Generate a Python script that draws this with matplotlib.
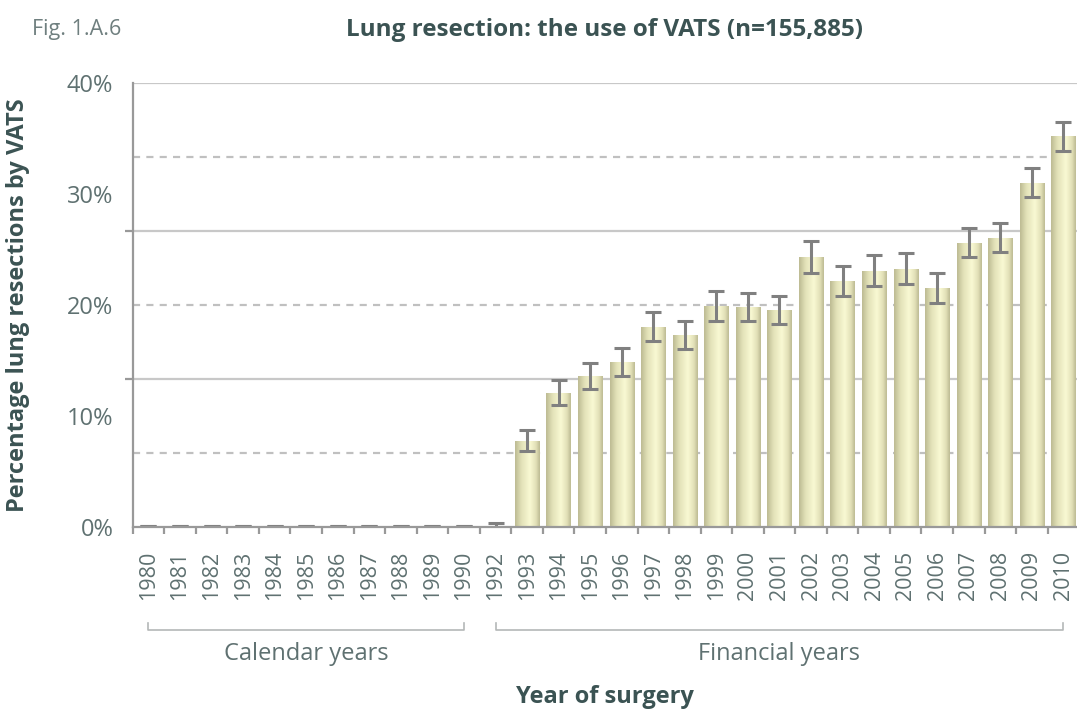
import matplotlib.pyplot as plt
import numpy as np
from matplotlib.colors import LinearSegmentedColormap

plt.rcParams['font.family'] = ['Open Sans', 'DejaVu Sans']

# Year of surgery (1991 is missing in the source)
years = ["1980", "1981", "1982", "1983", "1984", "1985", "1986", "1987", "1988", "1989", "1990",
         "1992", "1993", "1994", "1995", "1996", "1997", "1998", "1999", "2000", "2001",
         "2002", "2003", "2004", "2005", "2006", "2007", "2008", "2009", "2010"]

# Percentage of lung resections by VATS
vats_pct = [0.1, 0.1, 0.1, 0.1, 0.1, 0.1, 0.1, 0.1, 0.1, 0.1, 0.1,
            0.1, 7.75, 12.05, 13.6, 14.9, 18.0, 17.3, 19.9, 19.8, 19.55,
            24.3, 22.2, 23.1, 23.2, 21.5, 25.6, 26.0, 31.0, 35.2]

# 95% confidence limits
ci_upper = [0.1, 0.1, 0.1, 0.1, 0.1, 0.1, 0.1, 0.1, 0.1, 0.1, 0.1,
            0.4, 8.7, 13.2, 14.75, 16.15, 19.35, 18.6, 21.25, 21.1, 20.8,
            25.8, 23.5, 24.5, 24.7, 22.9, 26.9, 27.4, 32.3, 36.5]
ci_lower = [0.1, 0.1, 0.1, 0.1, 0.1, 0.1, 0.1, 0.1, 0.1, 0.1, 0.1,
            0.0, 6.85, 11.0, 12.45, 13.6, 16.75, 16.05, 18.6, 18.55, 18.3,
            22.9, 20.8, 21.7, 21.9, 20.2, 24.3, 24.8, 29.7, 33.9]

y_labels = ["0%", "10%", "20%", "30%", "40%"]

text_col = "#5f7171"
title_col = "#3b5353"
axis_col = "#999999"

fig = plt.figure(figsize=(10.77, 7.11), dpi=100)
ax = fig.add_axes([132.7 / 1077, 184 / 711, 946.5 / 1077, 444 / 711])

x = np.arange(len(years)) + 0.5
vals = np.array(vats_pct)
bars = ax.bar(x, vals, width=0.77, color="none", edgecolor="none", zorder=3)

# horizontal shading inside each bar
cmap = LinearSegmentedColormap.from_list(
    "bar", [(0, "#bdbb93"), (0.25, "#e2e1b8"), (0.6, "#f9f9d3"), (0.85, "#e2e0b7"), (1, "#bdbb93")])
grad = np.linspace(0, 1, 64).reshape(1, -1)
for b in bars:
    x0, w, h = b.get_x(), b.get_width(), b.get_height()
    im = ax.imshow(grad, cmap=cmap, extent=(x0, x0 + w, 0, h), aspect="auto", zorder=3,
                   interpolation="bicubic")
    im.set_clip_path(b)

yerr = [vals - np.array(ci_lower), np.array(ci_upper) - vals]
ax.errorbar(x, vals, yerr=yerr, fmt="none", ecolor="#808080", elinewidth=2.2,
            capsize=5.5, capthick=2.2, zorder=4)

ax.set_xlim(0, len(years))
ax.set_ylim(0, 40)

# gridlines: solid at thirds, dashed in between
for g in [40 / 3, 80 / 3, 40]:
    ax.axhline(g, color="#c8c8c8", lw=1.6, zorder=1)
for g in [20 / 3, 20, 100 / 3]:
    ax.axhline(g, color="#c0c0c0", lw=1.6, ls=(0, (3.2, 2.8)), zorder=1)

for s in ["top", "right"]:
    ax.spines[s].set_visible(False)
for s in ["left", "bottom"]:
    ax.spines[s].set_color(axis_col)
    ax.spines[s].set_linewidth(1.6)
    ax.spines[s].set_zorder(5)

ax.set_yticks([0, 10, 20, 30, 40])
ax.set_yticklabels(y_labels, fontsize=17, color=text_col)
ax.set_yticks([0, 40 / 3, 80 / 3, 40], minor=True)
ax.tick_params(axis="y", which="major", length=0, pad=14)
ax.tick_params(axis="y", which="minor", length=6, width=1.6, color=axis_col)

ax.set_xticks(x)
ax.set_xticklabels(years, rotation=90, fontsize=15.5, color=text_col)
ax.set_xticks(np.arange(len(years) + 1), minor=True)
ax.tick_params(axis="x", which="major", length=0, pad=17)
ax.tick_params(axis="x", which="minor", length=5, width=1.6, color=axis_col)

# brackets for calendar / financial years
tr = ax.get_xaxis_transform()
for a, b_, lab in [(0.5, 10.5, "Calendar years"), (11.5, 29.5, "Financial years")]:
    ax.plot([a, a, b_, b_], [-0.2155, -0.232, -0.232, -0.2155], transform=tr,
            color="#b4b8b8", lw=1.2, clip_on=False)
    ax.text((a + b_) / 2, -0.286, lab, transform=tr, ha="center", va="center",
            fontsize=17, color=text_col)

fig.text(0.5616, 1 - 697 / 711, "Year of surgery", ha="center", va="center",
         fontsize=17, fontweight="bold", color=title_col)
fig.text(18 / 1077, 1 - 305 / 711, "Percentage lung resections by VATS", rotation=90,
         ha="center", va="center", fontsize=17, fontweight="bold", color=title_col)
fig.text(605 / 1077, 1 - 30 / 711, "Lung resection: the use of VATS (n=155,885)",
         ha="center", va="center", fontsize=17.5, fontweight="bold", color=title_col)
fig.text(32 / 1077, 1 - 30 / 711, "Fig. 1.A.6", ha="left", va="center",
         fontsize=15.5, color="#6f7f7f")

fig.savefig("out.png", dpi=100)
